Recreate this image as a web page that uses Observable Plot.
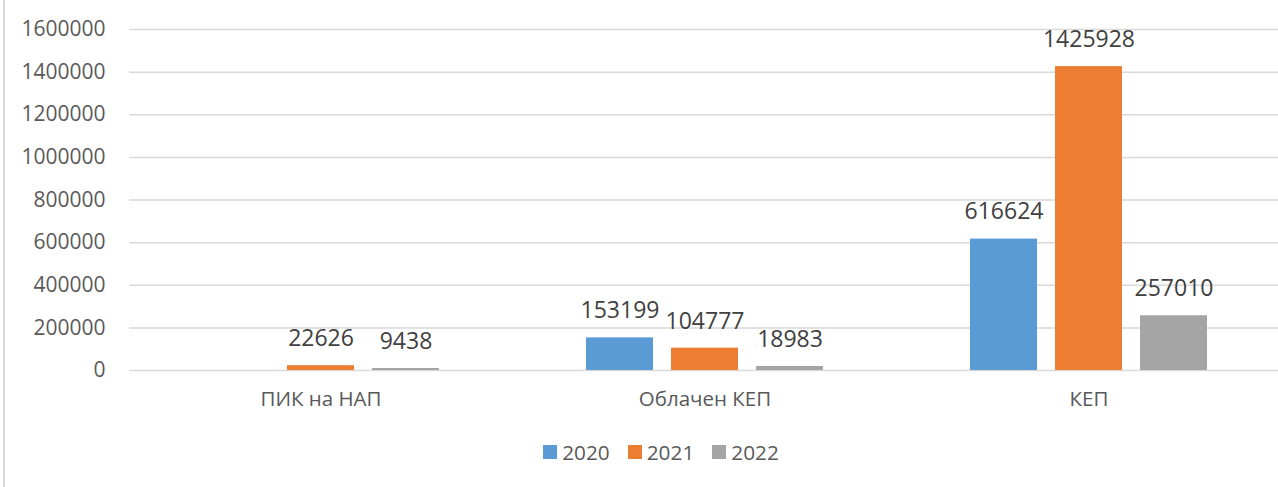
<!DOCTYPE html>
<html>
<head>
<meta charset="utf-8">
<script src="https://cdn.jsdelivr.net/npm/d3@7"></script>
<script src="https://cdn.jsdelivr.net/npm/@observablehq/plot@0.6"></script>
<style>
  html, body { margin: 0; padding: 0; background: #fff; }
  #wrap { position: relative; width: 1278px; height: 487px; overflow: hidden; font-family: "Open Sans", sans-serif; }
  #frame { position: absolute; left: 3px; top: 0; width: 2px; height: 487px; background: #d9d9d9; }
  #chart { position: absolute; left: 0; top: 0; }
  #legend { position: absolute; top: 438px; left: 0; width: 1278px; display: flex; justify-content: center; padding-left: 44px; box-sizing: border-box; font-size: 20.8px; color: #595959; }
  .item { display: flex; align-items: center; margin: 0 9px; }
  .sw { width: 14px; height: 14px; margin-right: 5px; }
</style>
</head>
<body>
<div id="wrap">
  <div id="frame"></div>
  <div id="chart"></div>
  <div id="legend"></div>
</div>
<script>
const categories = ["ПИК на НАП", "Облачен КЕП", "КЕП"];
const years = ["2020", "2021", "2022"];
const values2020 = [null, 153199, 616624];
const values2021 = [22626, 104777, 1425928];
const values2022 = [9438, 18983, 257010];
const colors = ["#5B9BD5", "#ED7D31", "#A5A5A5"];
const yTicks = [0, 200000, 400000, 600000, 800000, 1000000, 1200000, 1400000, 1600000];

const series = [values2020, values2021, values2022];
const offsets = [-85, 0, 85];

const marks = [
  Plot.ruleY(yTicks, {stroke: "#d9d9d9", strokeWidth: 1.5}),
  Plot.axisY({ticks: yTicks, tickSize: 0, tickPadding: 24, tickFormat: d => String(d), fontSize: 21, fill: "#595959", label: null}),
  Plot.axisX({tickSize: 0, tickPadding: 21, fontSize: 20.5, fill: "#595959", label: null})
];
series.forEach((vals, i) => {
  const data = categories.map((c, j) => ({category: c, year: years[i], value: vals[j]})).filter(d => d.value != null);
  marks.push(Plot.barY(data, {x: "category", y: "value", fill: colors[i], dx: offsets[i]}));
  marks.push(Plot.text(data, {x: "category", y: "value", text: d => String(d.value), dx: offsets[i], dy: -27, fontSize: 23, fill: "#404040", lineAnchor: "middle"}));
});

const chart = Plot.plot({
  width: 1278,
  height: 420,
  marginLeft: 129,
  marginRight: 0,
  marginTop: 29,
  marginBottom: 50,
  style: {fontFamily: "'Open Sans', sans-serif", background: "transparent", overflow: "visible"},
  x: {domain: categories, range: [129, 1281], paddingInner: 0.8255, paddingOuter: 0.41275, label: null},
  y: {domain: [0, 1600000], label: null},
  marks
});
document.getElementById("chart").appendChild(chart);

const legend = document.getElementById("legend");
years.forEach((y, i) => {
  const it = document.createElement("div");
  it.className = "item";
  const sw = document.createElement("div");
  sw.className = "sw";
  sw.style.background = colors[i];
  it.appendChild(sw);
  const t = document.createElement("span");
  t.textContent = y;
  it.appendChild(t);
  legend.appendChild(it);
});
</script>
</body>
</html>
